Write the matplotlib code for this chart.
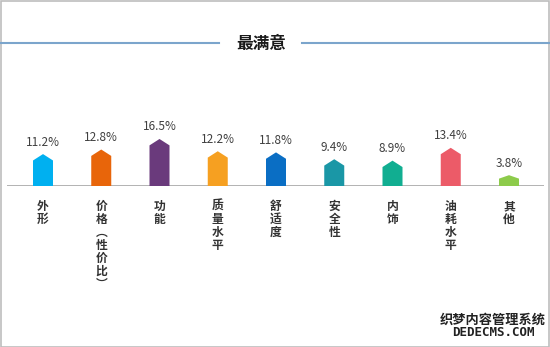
#!/usr/bin/env python3
import matplotlib
matplotlib.use("Agg")
import matplotlib.pyplot as plt
from matplotlib.patches import Polygon, Rectangle
from matplotlib.lines import Line2D

plt.rcParams['font.family'] = ['Noto Sans CJK SC', 'DejaVu Sans']

# 資料
categories = ["外形", "价格︵性价比︶", "功能", "质量水平", "舒适度",
              "安全性", "内饰", "油耗水平", "其他"]
values = [11.2, 12.8, 16.5, 12.2, 11.8, 9.4, 8.9, 13.4, 3.8]
value_labels = ["11.2%", "12.8%", "16.5%", "12.2%", "11.8%",
                "9.4%", "8.9%", "13.4%", "3.8%"]
colors = ["#00B0F0", "#E8650A", "#6A3A7C", "#F6A021", "#0A6EC4",
          "#1A97A6", "#11AE91", "#EC5B68", "#8DCB4B"]
title = "最满意"

W, H = 550, 347
fig = plt.figure(figsize=(W / 100, H / 100), dpi=100)

# 外框
fig.add_artist(Rectangle((0.5 / W, 0.5 / H), 1 - 2 / W, 1 - 1.5 / H,
                         transform=fig.transFigure, fill=False,
                         edgecolor="#BDBDBD", lw=1.2))

# 標題與兩側線
fig.text(261 / W, 1 - 44 / H, title, ha="center", va="center",
         fontsize=12, fontweight="bold", color="#1a1a1a")
line_y = 1 - 43 / H
for x0, x1 in [(0, 219), (302, 550)]:
    fig.add_artist(Line2D([x0 / W, x1 / W], [line_y, line_y],
                          transform=fig.transFigure,
                          color="#7BA5CC", lw=1.5))

# 主軸：基線 y=186px，每 1% 約 2.85px
base_px = 186
px_per = 2.85
pitch = 58.25
c0 = 43
left_px, right_px = 7, 544
top_px = 100
ax = fig.add_axes([left_px / W, 1 - base_px / H,
                   (right_px - left_px) / W, (base_px - top_px) / H])
ax.set_xlim((left_px - c0) / pitch, (right_px - c0) / pitch)
ax.set_ylim(0, (base_px - top_px) / px_per)
ax.axis("off")
ax.axhline(0, color="#A6A6A6", lw=1.2, zorder=1)

bar_w = 20 / pitch
for i, (v, c) in enumerate(zip(values, colors)):
    h_px = v * px_per
    tip = 0.32 * min(20, h_px) / px_per
    pts = [(i - bar_w / 2, 0), (i + bar_w / 2, 0),
           (i + bar_w / 2, v - tip), (i, v), (i - bar_w / 2, v - tip)]
    ax.add_patch(Polygon(pts, closed=True, facecolor=c,
                         edgecolor="none", zorder=2))
    ax.annotate(value_labels[i], (i, v), xytext=(0, 4),
                textcoords="offset points", ha="center", va="bottom",
                fontsize=8.5, color="#404040", annotation_clip=False)
    ax.annotate("\n".join(categories[i]), (i, 0), xytext=(0, -10),
                textcoords="offset points", ha="center", va="top",
                fontsize=8.5, fontweight="bold", color="#333333",
                linespacing=1.0, annotation_clip=False)

# 浮水印
fig.text(493 / W, 1 - 320 / H, "织梦内容管理系统", ha="center", va="center",
         fontsize=9.5, fontweight="bold", color="#222222")
fig.text(493 / W, 1 - 333 / H, "DEDECMS.COM", ha="center", va="center",
         fontsize=9, fontweight="bold", color="#222222",
         family=["DejaVu Sans Mono", "DejaVu Sans"])

fig.savefig("out.png", dpi=100)
